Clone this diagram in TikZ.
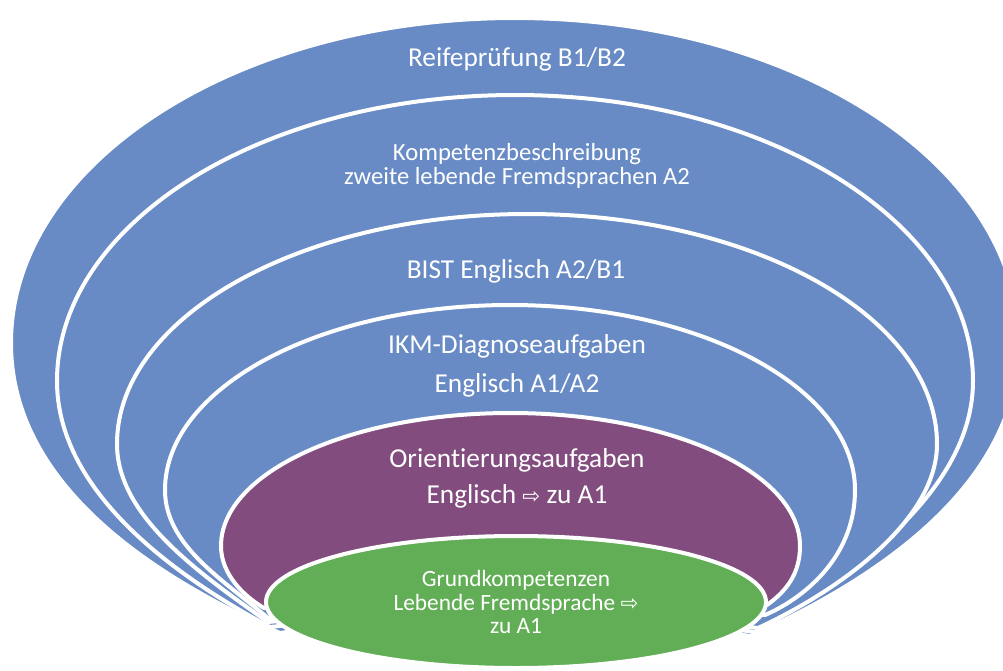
\documentclass[tikz,border=0pt]{standalone}
\usepackage{fontspec}
\setmainfont{Carlito}[Ligatures=NoCommon]
\newfontfamily\arrowfont{DejaVu Sans}
\usetikzlibrary{shapes.geometric}
\definecolor{ringblue}{RGB}{104,139,197}
\definecolor{ringpurple}{RGB}{130,77,126}
\definecolor{ringgreen}{RGB}{98,174,86}
\newcommand{\warrow}{{\arrowfont\fontsize{16}{16}\selectfont ⇨}}

\begin{document}
\begin{tikzpicture}[x=0.75pt, y=-0.75pt,
  ring/.style={draw=white, line width=3pt, line join=round},
  lvl/.style={text=white, align=center}]
\useasboundingbox (0,0) rectangle (1003,671);
\clip (0,0) rectangle (1003,671);
\filldraw [ring, fill=ringblue] (11,343) .. controls (11,163.5) and (236.6,18) .. (515,18) .. controls (793.4,18) and (1019,163.5) .. (1019,343) .. controls (1019,493) and (860,587) .. (750,636) -- (515,600) -- (280,633) .. controls (170,584) and (11,493) .. (11,343) -- cycle;
\filldraw [ring, fill=ringblue] (57,381) .. controls (57,223) and (262,95) .. (515,95) .. controls (768,95) and (973,223) .. (973,381) .. controls (973,491) and (850,577) .. (755,632) -- (515,600) -- (270,627) .. controls (173,575) and (57,491) .. (57,381) -- cycle;
\filldraw [ring, fill=ringblue] (117,444) .. controls (117,317) and (300.6,214) .. (527,214) .. controls (753.4,214) and (937,317) .. (937,444) .. controls (937,520) and (840,590) .. (758,628) -- (520,600) -- (268,622) .. controls (194,570) and (117,514) .. (117,444) -- cycle;
\filldraw [ring, fill=ringblue] (165,490) .. controls (165,388) and (319.5,305) .. (510,305) .. controls (700.5,305) and (855,388) .. (855,490) .. controls (855,560) and (800,600) .. (765,615) -- (510,600) -- (268,618) .. controls (222,579) and (165,545) .. (165,490) -- cycle;
\filldraw [ring, fill=ringpurple] (221,546) .. controls (221,472.5) and (350.5,413) .. (510.5,413) .. controls (670.5,413) and (800,472.5) .. (800,546) .. controls (800,575) and (785,592) .. (767,605) -- (510,600) -- (264,608) .. controls (245,597) and (221,575) .. (221,546) -- cycle;
\node [ring, fill=ringgreen, ellipse, inner sep=0pt, minimum width=375pt, minimum height=99pt, lvl, font=\fontsize{17.5}{17.6}\selectfont] (grund) at (516,602) {Grundkompetenzen\\Lebende Fremdsprache \warrow\\zu A1};
\node [lvl, font=\fontsize{20.5}{24}\selectfont] (reife) at (517,59) {Reifeprüfung B1/B2};
\node [lvl, font=\fontsize{18.5}{17.5}\selectfont] (kompetenz) at (517,166) {Kompetenzbeschreibung\\zweite lebende Fremdsprachen A2};
\node [lvl, font=\fontsize{20.5}{24}\selectfont] (bist) at (516,271) {BIST Englisch A2/B1};
\node [lvl, font=\fontsize{20.5}{29}\selectfont] (ikm) at (517,366) {IKM-Diagnoseaufgaben\\Englisch A1/A2};
\node [lvl, font=\fontsize{20.5}{27}\selectfont] (orient) at (517,478) {Orientierungsaufgaben\\Englisch \warrow{} zu A1};
\end{tikzpicture}
\end{document}
